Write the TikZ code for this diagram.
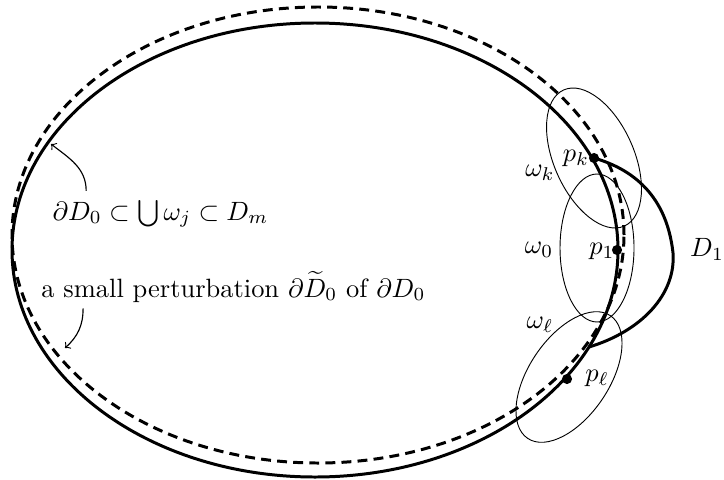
\documentclass[tikz,border=0pt]{standalone}
\usepackage{amsmath,amssymb}
\usetikzlibrary{positioning,calc}

\begin{document}
\begin{tikzpicture}[
  x=0.01528cm, y=0.01528cm,
  every node/.style={scale=1.15},
  bnd/.style={line width=1.3pt},
  pert/.style={line width=1.3pt, dash pattern=on 4.3pt off 2.7pt},
  nbhd/.style={line width=0.4pt},
  pt/.style={fill=black},
  lab/.style={inner sep=1pt},
  arr/.style={->, line width=0.5pt}
]
\useasboundingbox (0,0) rectangle (724,479);

% D_0 and its perturbation
\coordinate (c0) at (315,229);
\coordinate (c1) at (318,244);
\draw[bnd] (c0) ellipse [x radius=303, y radius=227];
\draw[pert] (c1) ellipse [x radius=306, y radius=228];

% points on the boundary
\coordinate (pk) at (594,321);
\coordinate (p1) at (617,229);
\coordinate (pl) at (567,100);
\coordinate (q) at (589,132);

% neighbourhoods omega
\draw[nbhd] (pk) ellipse [x radius=40, y radius=74.5, rotate=24];
\draw[nbhd] (597,231) ellipse [x radius=37, y radius=74];
\draw[nbhd] (569,102) ellipse [x radius=40, y radius=74, rotate=-34];

% boundary of D_1
\draw[bnd] (pk) .. controls (625,312) and (666,290) .. (673,226)
  .. controls (676,185) and (642,148) .. (q);

\fill[pt] (pk) circle (2.2pt);
\fill[pt] (p1) circle (2.2pt);
\fill[pt] (pl) circle (2.2pt);

% labels
\node[lab] (wk) at (540,306) {$\omega_k$};
\node[lab] (w0) at (539,229) {$\omega_0$};
\node[lab] (wl) at (540,154) {$\omega_\ell$};
\node[lab] (lpk) at (576,321) {$p_k$};
\node[lab] (lp1) at (602,228) {$p_1$};
\node[lab] (lpl) at (597,101) {$p_\ell$};
\node[lab] (d1) at (707,230) {$D_1$};

\node[anchor=base] (cover) at (160.5,259) {$\partial D_0\subset\bigcup\omega_j\subset D_m$};
\node[anchor=base] (small) at (233.5,182) {a small perturbation $\partial\widetilde{D}_0$ of $\partial D_0$};

\coordinate (t1) at (51,335);
\coordinate (t2) at (65,131);
\draw[arr] ($(cover.north west)+(43,0)$) to[out=90, in=-38] (t1);
\draw[arr] ($(small.south west)+(51,3)$) to[out=-90, in=42] (t2);

\end{tikzpicture}
\end{document}
